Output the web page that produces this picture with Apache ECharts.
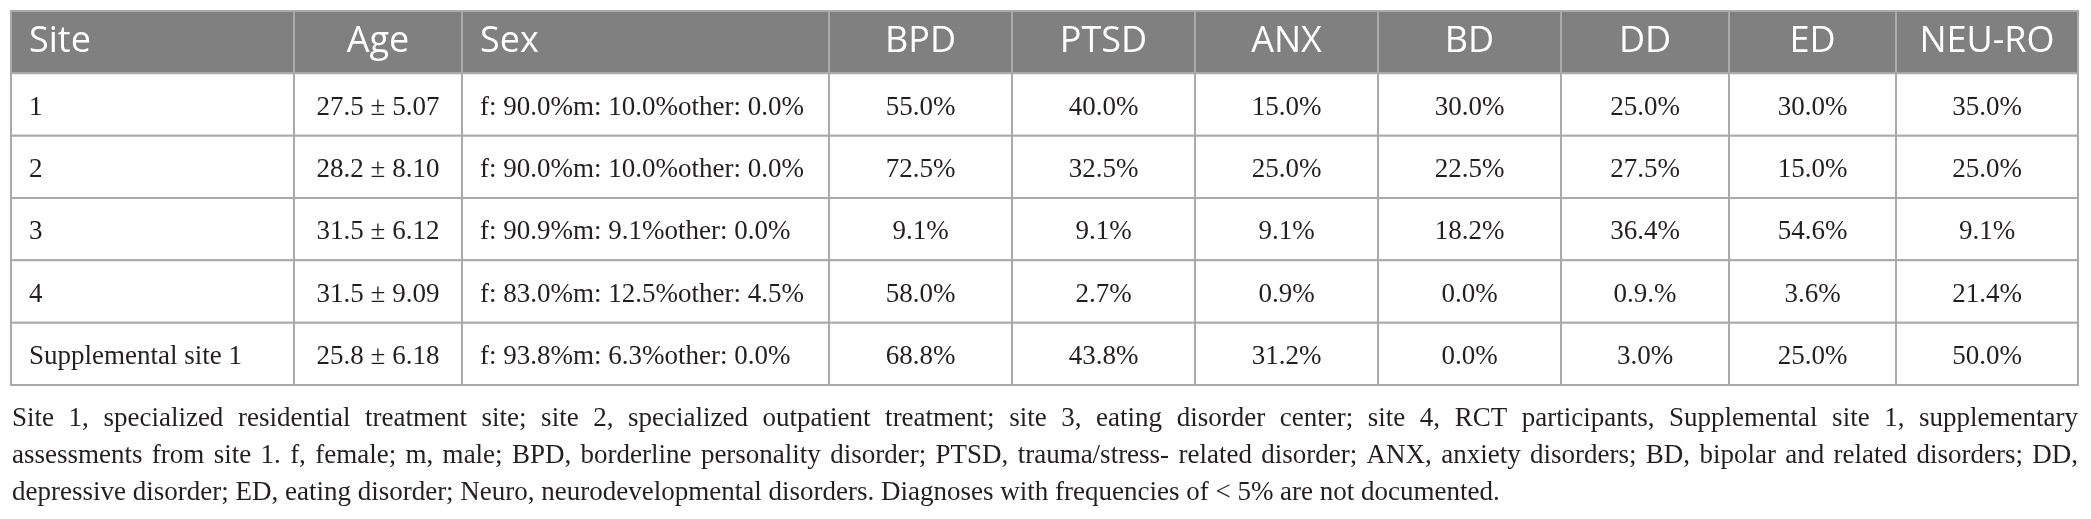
<!DOCTYPE html>
<html>
<head>
    <meta charset="utf-8" />
    <script src="https://cdn.jsdelivr.net/npm/echarts@6/dist/echarts.min.js"></script>
    <style>html, body { margin: 0; padding: 0; background: #fff; }</style>
</head>
<body>
    <div id="main" style="width: 2091px; height: 519px;"></div>
    <script type="text/javascript">
        // table content, as printed
        var headers = ['Site', 'Age', 'Sex', 'BPD', 'PTSD', 'ANX', 'BD', 'DD', 'ED', 'NEU-RO'];
        var sites = ['1', '2', '3', '4', 'Supplemental site 1'];
        var ageMean = [27.5, 28.2, 31.5, 31.5, 25.8];
        var ageSd = [5.07, 8.10, 6.12, 9.09, 6.18];
        var sexF = [90.0, 90.0, 90.9, 83.0, 93.8];
        var sexM = [10.0, 10.0, 9.1, 12.5, 6.3];
        var sexOther = [0.0, 0.0, 0.0, 4.5, 0.0];
        var bpd = ['55.0', '72.5', '9.1', '58.0', '68.8'];
        var ptsd = ['40.0', '32.5', '9.1', '2.7', '43.8'];
        var anx = ['15.0', '25.0', '9.1', '0.9', '31.2'];
        var bd = ['30.0', '22.5', '18.2', '0.0', '0.0'];
        var dd = ['25.0', '27.5', '36.4', '0.9.', '3.0'];
        var ed = ['30.0', '15.0', '54.6', '3.6', '25.0'];
        var neuro = ['35.0', '25.0', '9.1', '21.4', '50.0'];
        var captionLines = [
            'Site 1, specialized residential treatment site; site 2, specialized outpatient treatment; site 3, eating disorder center; site 4, RCT participants, Supplemental site 1, supplementary',
            'assessments from site 1. f, female; m, male; BPD, borderline personality disorder; PTSD, trauma/stress- related disorder; ANX, anxiety disorders; BD, bipolar and related disorders; DD,',
            'depressive disorder; ED, eating disorder; Neuro, neurodevelopmental disorders. Diagnoses with frequencies of < 5% are not documented.'
        ];

        // column widths in px (layout only)
        var colWidths = [283, 168, 367, 183, 183, 183, 183, 168, 167, 182];
        var colAlign = ['left', 'center', 'left', 'center', 'center', 'center', 'center', 'center', 'center', 'center'];
        var edges = [0];
        colWidths.forEach(function (w) { edges.push(edges[edges.length - 1] + w); });
        var tableWidth = edges[edges.length - 1];

        var headFont = '36px "Open Sans"';
        var bodyFont = '27px "Liberation Serif"';
        var capFont = '27px "Liberation Serif"';

        var diag = [bpd, ptsd, anx, bd, dd, ed, neuro];
        var rows = [headers];
        for (var i = 0; i < sites.length; i++) {
            var r = [
                sites[i],
                ageMean[i].toFixed(1) + ' \u00b1 ' + ageSd[i].toFixed(2),
                'f: ' + sexF[i].toFixed(1) + '%m: ' + sexM[i].toFixed(1) + '%other: ' + sexOther[i].toFixed(1) + '%'
            ];
            diag.forEach(function (d) { r.push(d[i] + '%'); });
            rows.push(r);
        }

        var cells = [];
        rows.forEach(function (r, ri) {
            r.forEach(function (t, ci) { cells.push([ci, ri, t]); });
        });

        var myChart = echarts.init(document.getElementById('main'));

        // justified caption, word by word
        var ctx = document.createElement('canvas').getContext('2d');
        ctx.font = capFont;
        var capLeft = 12, capRight = 2078, capTop = 419, capStep = 37;
        var graphics = [];
        captionLines.forEach(function (line, li) {
            var words = line.split(' ');
            var widths = words.map(function (w) { return ctx.measureText(w).width; });
            var sum = widths.reduce(function (a, b) { return a + b; }, 0);
            var last = li === captionLines.length - 1;
            var gap = last ? ctx.measureText(' ').width : (capRight - capLeft - sum) / (words.length - 1);
            var x = capLeft;
            words.forEach(function (w, wi) {
                graphics.push({
                    type: 'text',
                    x: x,
                    y: capTop + li * capStep,
                    style: { text: w, font: capFont, fill: '#231f20', verticalAlign: 'middle' }
                });
                x += widths[wi] + gap;
            });
        });

        var option = {
            animation: false,
            grid: { left: 11, width: tableWidth, top: 11, height: 374 },
            xAxis: { type: 'value', min: 0, max: tableWidth, show: false },
            yAxis: { type: 'value', min: 0, max: rows.length, inverse: true, show: false },
            graphic: graphics,
            series: [{
                type: 'custom',
                clip: false,
                data: cells,
                renderItem: function (params, api) {
                    var c = api.value(0), r = api.value(1);
                    var text = cells[params.dataIndex][2];
                    var p0 = api.coord([edges[c], r]);
                    var p1 = api.coord([edges[c + 1], r + 1]);
                    var head = r === 0;
                    var left = colAlign[c] === 'left';
                    return {
                        type: 'group',
                        children: [{
                            type: 'rect',
                            shape: { x: p0[0], y: p0[1], width: p1[0] - p0[0], height: p1[1] - p0[1] },
                            style: { fill: head ? '#808080' : '#ffffff', stroke: '#aaaaaa', lineWidth: 2 }
                        }, {
                            type: 'text',
                            x: left ? p0[0] + 18 : (p0[0] + p1[0]) / 2,
                            y: (p0[1] + p1[1]) / 2 + (head ? 0 : 3),
                            style: {
                                text: text,
                                font: head ? headFont : bodyFont,
                                fill: head ? '#ffffff' : '#231f20',
                                align: left ? 'left' : 'center',
                                verticalAlign: 'middle'
                            }
                        }]
                    };
                }
            }]
        };

        myChart.setOption(option);
    </script>
</body>
</html>
